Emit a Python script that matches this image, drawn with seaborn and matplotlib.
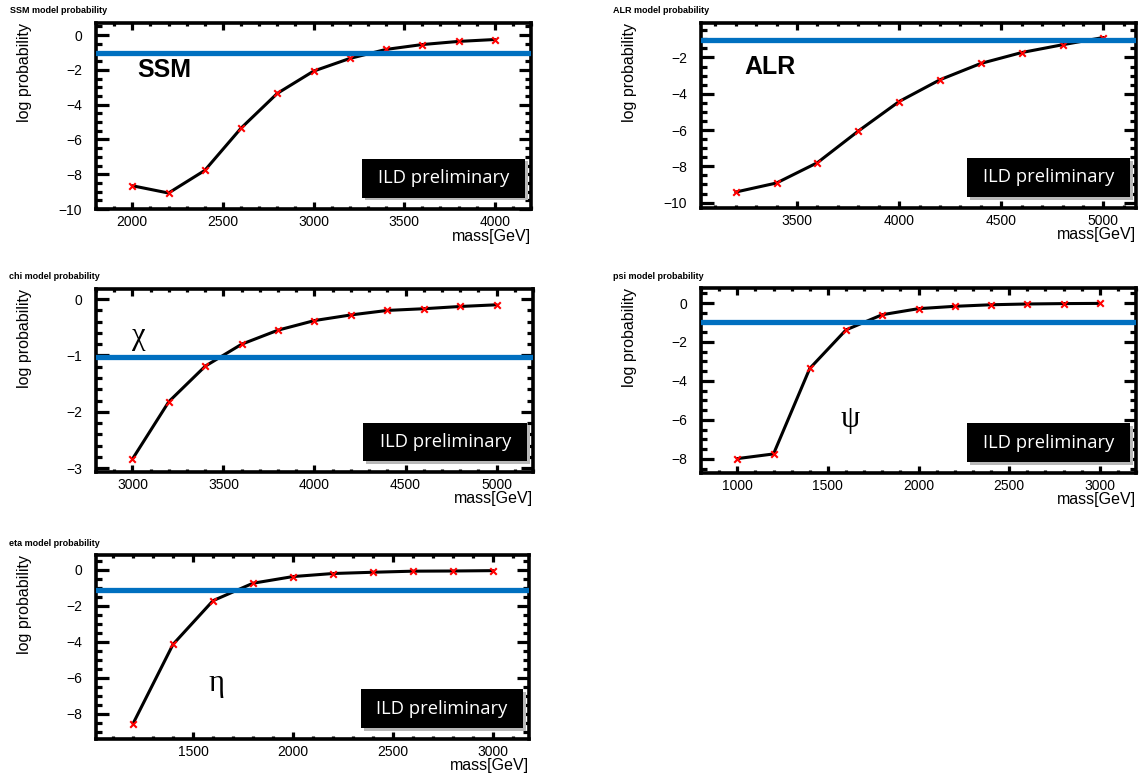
import matplotlib
matplotlib.use("Agg")
from matplotlib import pyplot as plt
from matplotlib.patches import Rectangle
from matplotlib.ticker import AutoMinorLocator, MultipleLocator
import pandas as pd
import seaborn as sns

# === Data ===
mass_ssm = [2000, 2200, 2400, 2600, 2800, 3000, 3200, 3400, 3600, 3800, 4000]
logp_ssm = [-8.66, -9.08, -7.78, -5.35, -3.35, -2.07, -1.34, -0.82, -0.54, -0.36, -0.25]

mass_alr = [3200, 3400, 3600, 3800, 4000, 4200, 4400, 4600, 4800, 5000]
logp_alr = [-9.42, -8.92, -7.80, -6.06, -4.43, -3.23, -2.33, -1.73, -1.30, -0.90]

mass_chi = [3000, 3200, 3400, 3600, 3800, 4000, 4200, 4400, 4600, 4800, 5000]
logp_chi = [-2.84, -1.82, -1.19, -0.80, -0.55, -0.38, -0.28, -0.20, -0.17, -0.13, -0.10]

mass_psi = [1000, 1200, 1400, 1600, 1800, 2000, 2200, 2400, 2600, 2800, 3000]
logp_psi = [-7.99, -7.75, -3.36, -1.38, -0.60, -0.29, -0.17, -0.09, -0.05, -0.03, -0.02]

mass_eta = [1200, 1400, 1600, 1800, 2000, 2200, 2400, 2600, 2800, 3000]
logp_eta = [-8.55, -4.14, -1.71, -0.74, -0.37, -0.20, -0.13, -0.07, -0.06, -0.04]

# threshold lines (blue)
thresholds = [-1.05, -1.05, -1.02, -0.98, -1.10]
titles = ["SSM model probability", "ALR model probability", "chi model probability",
          "psi model probability", "eta model probability"]
model_labels = ["SSM", "ALR", "\u03c7", "\u03c8", "\u03b7"]

sns.set_style("ticks")
plt.rcParams['font.family'] = ['Liberation Sans', 'DejaVu Sans']
for key in ["text.color", "axes.labelcolor", "xtick.color", "ytick.color"]:
    plt.rcParams[key] = "black"

fig = plt.figure(figsize=(11.43, 7.82), dpi=100)

# axes rectangles in figure fraction [left, bottom, width, height]
rects = [
    [0.0840, 0.7327, 0.3806, 0.2379],
    [0.6133, 0.7340, 0.3806, 0.2366],
    [0.0840, 0.3964, 0.3823, 0.2340],
    [0.6133, 0.3951, 0.3806, 0.2366],
    [0.0840, 0.0550, 0.3788, 0.2353],
]
xlims = [(1800, 4200), (3030, 5160), (2800, 5200), (800, 3200), (1015, 3180)]
ylims = [(-10.0, 0.7), (-10.3, -0.1), (-3.07, 0.18), (-8.73, 0.77), (-9.4, 0.83)]
ymajor = [2, 2, 1, 2, 2]
title_pos = [(0.009, 0.986), (0.536, 0.986), (0.008, 0.646), (0.536, 0.646), (0.008, 0.305)]
label_pos = [(0.094, 0.75), (0.10, 0.76), (0.083, 0.74), (0.32, 0.29), (0.26, 0.30)]

series = [(mass_ssm, logp_ssm), (mass_alr, logp_alr), (mass_chi, logp_chi),
          (mass_psi, logp_psi), (mass_eta, logp_eta)]

for i, (mass, logp) in enumerate(series):
    ax = fig.add_axes(rects[i])
    df = pd.DataFrame({"mass": mass, "logp": logp})
    sns.lineplot(data=df, x="mass", y="logp", ax=ax, color="black", lw=2.2, zorder=3)
    sns.scatterplot(data=df, x="mass", y="logp", ax=ax, color="red", marker="x",
                    s=22, linewidth=1.5, zorder=4)
    ax.axhline(thresholds[i], color="#0070c0", lw=3.8, zorder=5)

    ax.set_xlim(*xlims[i])
    ax.set_ylim(*ylims[i])
    ax.xaxis.set_major_locator(MultipleLocator(500))
    ax.yaxis.set_major_locator(MultipleLocator(ymajor[i]))
    ax.xaxis.set_minor_locator(AutoMinorLocator(5))
    ax.yaxis.set_minor_locator(AutoMinorLocator(5 if ymajor[i] == 1 else 4))
    ax.tick_params(which="both", direction="in", top=True, right=True, width=2.3,
                   labelsize=10)
    ax.tick_params(axis="y", which="major", length=9, pad=10)
    ax.tick_params(axis="y", which="minor", length=4.5)
    ax.tick_params(axis="x", which="major", length=5, pad=4)
    ax.tick_params(axis="x", which="minor", length=2.5)
    for sp in ax.spines.values():
        sp.set_linewidth(2.6)
        sp.set_color("black")

    ax.set_xlabel("mass[GeV]", fontsize=11.5, ha="right", va="top")
    ax.xaxis.set_label_coords(1.0, -0.105)
    ax.set_ylabel("log probability", fontsize=11.5, ha="right")
    ax.yaxis.set_label_coords(-0.147, 1.0)

    fig.text(title_pos[i][0], title_pos[i][1], titles[i], fontsize=6.5,
             fontweight="bold", ha="left", va="center")

    if i < 2:
        ax.text(label_pos[i][0], label_pos[i][1], model_labels[i], transform=ax.transAxes,
                fontsize=18, fontweight="bold", ha="left", va="center")
    else:
        ax.text(label_pos[i][0], label_pos[i][1], model_labels[i], transform=ax.transAxes,
                fontsize=22, family=["Liberation Serif", "DejaVu Serif"],
                ha="left", va="center")

    # "ILD preliminary" badge with a soft shadow
    bx, by, bw, bh = 0.612, 0.06, 0.375, 0.21
    ax.add_patch(Rectangle((bx + 0.006, by - 0.014), bw, bh, transform=ax.transAxes,
                           facecolor="#b8b8b8", edgecolor="none", zorder=6))
    ax.add_patch(Rectangle((bx, by), bw, bh, transform=ax.transAxes,
                           facecolor="black", edgecolor="none", zorder=7))
    ax.text(bx + bw / 2, by + bh / 2, "ILD preliminary", transform=ax.transAxes,
            color="white", fontsize=13.2, family=["Open Sans", "DejaVu Sans"],
            ha="center", va="center", zorder=8)

fig.savefig("out.png", dpi=100)
